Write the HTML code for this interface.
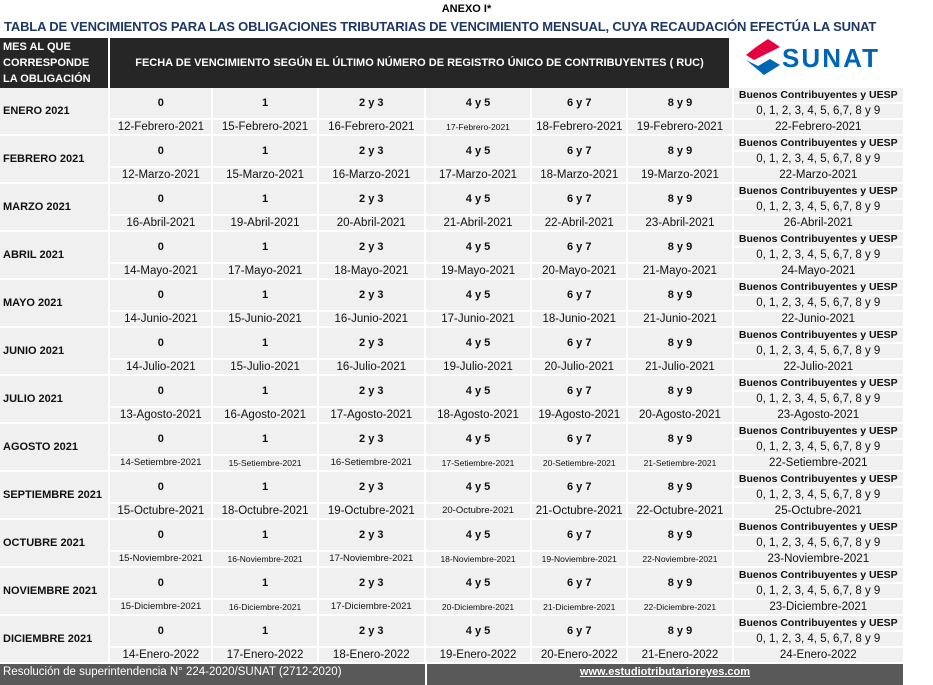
<!DOCTYPE html>
<html><head><meta charset="utf-8"><style>
body{margin:0;width:933px;height:685px;background:#fff;position:relative;overflow:hidden;font-family:"Liberation Sans",sans-serif;}
.abs{position:absolute;}
table{position:absolute;left:-2px;top:86px;border-collapse:separate;border-spacing:2px;table-layout:fixed;width:907px;}
td{background:#f0f0f0;height:14px;padding:0;text-align:center;font-size:11px;line-height:14px;white-space:nowrap;overflow:hidden;color:#111;}
td.m{text-align:left;font-weight:bold;font-size:11px;padding-left:3px;}
td.n{font-weight:bold;font-size:11px;}
td.b{font-weight:bold;font-size:10.5px;}
td.s{font-size:8.5px;}
td.d{font-size:11.5px;}
</style></head><body>
<div class="abs" style="left:0;width:933px;top:3px;text-align:center;font-weight:bold;font-size:11px;">ANEXO I*</div>
<div class="abs" style="left:4px;width:868px;top:19px;text-align:center;font-weight:bold;font-size:13px;color:#1f3864;white-space:nowrap;letter-spacing:-0.15px;">TABLA DE VENCIMIENTOS PARA LAS OBLIGACIONES TRIBUTARIAS DE VENCIMIENTO MENSUAL, CUYA RECAUDACIÓN EFECTÚA LA SUNAT</div>
<div class="abs" style="left:0;top:38px;width:108px;height:50px;background:#262626;color:#fff;font-weight:bold;font-size:11px;line-height:16px;padding-left:3px;box-sizing:border-box;padding-top:1px;">MES AL QUE<br>CORRESPONDE<br>LA OBLIGACIÓN</div>
<div class="abs" style="left:110px;top:38px;width:619px;height:50px;background:#262626;color:#fff;font-weight:bold;font-size:11px;line-height:50px;text-align:center;">FECHA DE VENCIMIENTO SEGÚN EL ÚLTIMO NÚMERO DE REGISTRO ÚNICO DE CONTRIBUYENTES ( RUC)</div>
<svg class="abs" style="left:744px;top:38px" width="140" height="38" viewBox="0 0 140 38">
<polygon points="24,1 36,9 24,15 12,9" fill="#e5003f"/>
<polygon points="12,9 24,15 10,22 2,17" fill="#e5003f"/>
<polygon points="2,22 14,28 26,21 36,27 20,37" fill="#0066b3"/>
<text x="38" y="29" font-family="Liberation Sans" font-weight="bold" font-size="26" fill="#0066b3" textLength="96">SUNAT</text>
</svg>
<table>
<colgroup><col style="width:108px"><col style="width:101px"><col style="width:103px"><col style="width:105px"><col style="width:104px"><col style="width:94px"><col style="width:103px"><col style="width:169px"></colgroup>
<tr><td class="m" rowspan="3">ENERO 2021</td><td class="n" rowspan="2">0</td><td class="n" rowspan="2">1</td><td class="n" rowspan="2">2 y 3</td><td class="n" rowspan="2">4 y 5</td><td class="n" rowspan="2">6 y 7</td><td class="n" rowspan="2">8 y 9</td><td class="b">Buenos Contribuyentes y UESP</td></tr>
<tr><td class="d">0, 1, 2, 3, 4, 5, 6,7, 8 y 9</td></tr>
<tr><td class="d">12-Febrero-2021</td><td class="d">15-Febrero-2021</td><td class="d">16-Febrero-2021</td><td class="s">17-Febrero-2021</td><td class="d">18-Febrero-2021</td><td class="d">19-Febrero-2021</td><td class="d">22-Febrero-2021</td></tr>

<tr><td class="m" rowspan="3">FEBRERO 2021</td><td class="n" rowspan="2">0</td><td class="n" rowspan="2">1</td><td class="n" rowspan="2">2 y 3</td><td class="n" rowspan="2">4 y 5</td><td class="n" rowspan="2">6 y 7</td><td class="n" rowspan="2">8 y 9</td><td class="b">Buenos Contribuyentes y UESP</td></tr>
<tr><td class="d">0, 1, 2, 3, 4, 5, 6,7, 8 y 9</td></tr>
<tr><td class="d">12-Marzo-2021</td><td class="d">15-Marzo-2021</td><td class="d">16-Marzo-2021</td><td class="d">17-Marzo-2021</td><td class="d">18-Marzo-2021</td><td class="d">19-Marzo-2021</td><td class="d">22-Marzo-2021</td></tr>

<tr><td class="m" rowspan="3">MARZO 2021</td><td class="n" rowspan="2">0</td><td class="n" rowspan="2">1</td><td class="n" rowspan="2">2 y 3</td><td class="n" rowspan="2">4 y 5</td><td class="n" rowspan="2">6 y 7</td><td class="n" rowspan="2">8 y 9</td><td class="b">Buenos Contribuyentes y UESP</td></tr>
<tr><td class="d">0, 1, 2, 3, 4, 5, 6,7, 8 y 9</td></tr>
<tr><td class="d">16-Abril-2021</td><td class="d">19-Abril-2021</td><td class="d">20-Abril-2021</td><td class="d">21-Abril-2021</td><td class="d">22-Abril-2021</td><td class="d">23-Abril-2021</td><td class="d">26-Abril-2021</td></tr>

<tr><td class="m" rowspan="3">ABRIL 2021</td><td class="n" rowspan="2">0</td><td class="n" rowspan="2">1</td><td class="n" rowspan="2">2 y 3</td><td class="n" rowspan="2">4 y 5</td><td class="n" rowspan="2">6 y 7</td><td class="n" rowspan="2">8 y 9</td><td class="b">Buenos Contribuyentes y UESP</td></tr>
<tr><td class="d">0, 1, 2, 3, 4, 5, 6,7, 8 y 9</td></tr>
<tr><td class="d">14-Mayo-2021</td><td class="d">17-Mayo-2021</td><td class="d">18-Mayo-2021</td><td class="d">19-Mayo-2021</td><td class="d">20-Mayo-2021</td><td class="d">21-Mayo-2021</td><td class="d">24-Mayo-2021</td></tr>

<tr><td class="m" rowspan="3">MAYO 2021</td><td class="n" rowspan="2">0</td><td class="n" rowspan="2">1</td><td class="n" rowspan="2">2 y 3</td><td class="n" rowspan="2">4 y 5</td><td class="n" rowspan="2">6 y 7</td><td class="n" rowspan="2">8 y 9</td><td class="b">Buenos Contribuyentes y UESP</td></tr>
<tr><td class="d">0, 1, 2, 3, 4, 5, 6,7, 8 y 9</td></tr>
<tr><td class="d">14-Junio-2021</td><td class="d">15-Junio-2021</td><td class="d">16-Junio-2021</td><td class="d">17-Junio-2021</td><td class="d">18-Junio-2021</td><td class="d">21-Junio-2021</td><td class="d">22-Junio-2021</td></tr>

<tr><td class="m" rowspan="3">JUNIO 2021</td><td class="n" rowspan="2">0</td><td class="n" rowspan="2">1</td><td class="n" rowspan="2">2 y 3</td><td class="n" rowspan="2">4 y 5</td><td class="n" rowspan="2">6 y 7</td><td class="n" rowspan="2">8 y 9</td><td class="b">Buenos Contribuyentes y UESP</td></tr>
<tr><td class="d">0, 1, 2, 3, 4, 5, 6,7, 8 y 9</td></tr>
<tr><td class="d">14-Julio-2021</td><td class="d">15-Julio-2021</td><td class="d">16-Julio-2021</td><td class="d">19-Julio-2021</td><td class="d">20-Julio-2021</td><td class="d">21-Julio-2021</td><td class="d">22-Julio-2021</td></tr>

<tr><td class="m" rowspan="3">JULIO 2021</td><td class="n" rowspan="2">0</td><td class="n" rowspan="2">1</td><td class="n" rowspan="2">2 y 3</td><td class="n" rowspan="2">4 y 5</td><td class="n" rowspan="2">6 y 7</td><td class="n" rowspan="2">8 y 9</td><td class="b">Buenos Contribuyentes y UESP</td></tr>
<tr><td class="d">0, 1, 2, 3, 4, 5, 6,7, 8 y 9</td></tr>
<tr><td class="d">13-Agosto-2021</td><td class="d">16-Agosto-2021</td><td class="d">17-Agosto-2021</td><td class="d">18-Agosto-2021</td><td class="d">19-Agosto-2021</td><td class="d">20-Agosto-2021</td><td class="d">23-Agosto-2021</td></tr>

<tr><td class="m" rowspan="3">AGOSTO 2021</td><td class="n" rowspan="2">0</td><td class="n" rowspan="2">1</td><td class="n" rowspan="2">2 y 3</td><td class="n" rowspan="2">4 y 5</td><td class="n" rowspan="2">6 y 7</td><td class="n" rowspan="2">8 y 9</td><td class="b">Buenos Contribuyentes y UESP</td></tr>
<tr><td class="d">0, 1, 2, 3, 4, 5, 6,7, 8 y 9</td></tr>
<tr><td class="s" style="font-size:9.5px">14-Setiembre-2021</td><td class="s">15-Setiembre-2021</td><td class="s" style="font-size:9.5px">16-Setiembre-2021</td><td class="s">17-Setiembre-2021</td><td class="s">20-Setiembre-2021</td><td class="s">21-Setiembre-2021</td><td class="d">22-Setiembre-2021</td></tr>

<tr><td class="m" rowspan="3">SEPTIEMBRE 2021</td><td class="n" rowspan="2">0</td><td class="n" rowspan="2">1</td><td class="n" rowspan="2">2 y 3</td><td class="n" rowspan="2">4 y 5</td><td class="n" rowspan="2">6 y 7</td><td class="n" rowspan="2">8 y 9</td><td class="b">Buenos Contribuyentes y UESP</td></tr>
<tr><td class="d">0, 1, 2, 3, 4, 5, 6,7, 8 y 9</td></tr>
<tr><td class="d">15-Octubre-2021</td><td class="d">18-Octubre-2021</td><td class="d">19-Octubre-2021</td><td class="s" style="font-size:9.5px">20-Octubre-2021</td><td class="d">21-Octubre-2021</td><td class="d">22-Octubre-2021</td><td class="d">25-Octubre-2021</td></tr>

<tr><td class="m" rowspan="3">OCTUBRE 2021</td><td class="n" rowspan="2">0</td><td class="n" rowspan="2">1</td><td class="n" rowspan="2">2 y 3</td><td class="n" rowspan="2">4 y 5</td><td class="n" rowspan="2">6 y 7</td><td class="n" rowspan="2">8 y 9</td><td class="b">Buenos Contribuyentes y UESP</td></tr>
<tr><td class="d">0, 1, 2, 3, 4, 5, 6,7, 8 y 9</td></tr>
<tr><td class="s" style="font-size:9.5px">15-Noviembre-2021</td><td class="s">16-Noviembre-2021</td><td class="s" style="font-size:9.5px">17-Noviembre-2021</td><td class="s">18-Noviembre-2021</td><td class="s">19-Noviembre-2021</td><td class="s">22-Noviembre-2021</td><td class="d">23-Noviembre-2021</td></tr>

<tr><td class="m" rowspan="3">NOVIEMBRE 2021</td><td class="n" rowspan="2">0</td><td class="n" rowspan="2">1</td><td class="n" rowspan="2">2 y 3</td><td class="n" rowspan="2">4 y 5</td><td class="n" rowspan="2">6 y 7</td><td class="n" rowspan="2">8 y 9</td><td class="b">Buenos Contribuyentes y UESP</td></tr>
<tr><td class="d">0, 1, 2, 3, 4, 5, 6,7, 8 y 9</td></tr>
<tr><td class="s" style="font-size:9.5px">15-Diciembre-2021</td><td class="s">16-Diciembre-2021</td><td class="s" style="font-size:9.5px">17-Diciembre-2021</td><td class="s">20-Diciembre-2021</td><td class="s">21-Diciembre-2021</td><td class="s">22-Diciembre-2021</td><td class="d">23-Diciembre-2021</td></tr>

<tr><td class="m" rowspan="3">DICIEMBRE 2021</td><td class="n" rowspan="2">0</td><td class="n" rowspan="2">1</td><td class="n" rowspan="2">2 y 3</td><td class="n" rowspan="2">4 y 5</td><td class="n" rowspan="2">6 y 7</td><td class="n" rowspan="2">8 y 9</td><td class="b">Buenos Contribuyentes y UESP</td></tr>
<tr><td class="d">0, 1, 2, 3, 4, 5, 6,7, 8 y 9</td></tr>
<tr><td class="d">14-Enero-2022</td><td class="d">17-Enero-2022</td><td class="d">18-Enero-2022</td><td class="d">19-Enero-2022</td><td class="d">20-Enero-2022</td><td class="d">21-Enero-2022</td><td class="d">24-Enero-2022</td></tr>
</table>
<div class="abs" style="left:0;top:664px;width:425px;height:21px;background:#595959;color:#fff;font-size:11.5px;line-height:17px;padding-left:3px;box-sizing:border-box;">Resolución de superintendencia N° 224-2020/SUNAT (2712-2020)</div>
<div class="abs" style="left:427px;top:664px;width:476px;height:21px;background:#595959;color:#fff;font-size:11px;font-weight:bold;line-height:17px;text-align:center;text-decoration:underline;">www.estudiotributarioreyes.com</div>
</body></html>
